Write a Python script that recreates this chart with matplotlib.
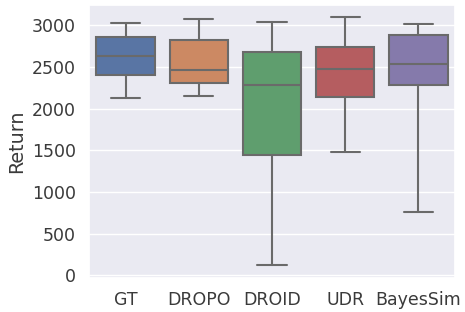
import numpy as np
import matplotlib
matplotlib.use('Agg')
import matplotlib.pyplot as plt
import seaborn as sns

# box stats
methods = ['GT', 'DROPO', 'DROID', 'UDR', 'BayesSim']
whislo = [2131, 2155, 120, 1474, 761]
q1 = [2406, 2311, 1446, 2139, 2279]
med = [2626, 2466, 2279, 2474, 2530]
q3 = [2860, 2825, 2681, 2737, 2884]
whishi = [3027, 3076, 3036, 3095, 3008]

sns.set_theme(style='darkgrid')
plt.rcParams['font.family'] = ['DejaVu Sans']
plt.rcParams['text.color'] = '#3a3a3a'
plt.rcParams['axes.labelcolor'] = '#3a3a3a'
plt.rcParams['xtick.color'] = '#3a3a3a'
plt.rcParams['ytick.color'] = '#3a3a3a'

pal = sns.color_palette('deep', len(methods))
colors = [sns.desaturate(c, 0.75) for c in pal]
line_col = '#6a6a6a'

fig = plt.figure(figsize=(4.65, 3.12), dpi=100)
ax = fig.add_axes([0.1914, 0.109, 0.7871, 0.875])

stats = []
for i, m in enumerate(methods):
    stats.append({'label': m, 'whislo': whislo[i], 'q1': q1[i], 'med': med[i],
                  'q3': q3[i], 'whishi': whishi[i], 'fliers': []})

bp = ax.bxp(stats, positions=np.arange(len(methods)), widths=0.8,
            patch_artist=True, showfliers=False, manage_ticks=False,
            boxprops=dict(edgecolor=line_col, linewidth=1.5),
            medianprops=dict(color=line_col, linewidth=1.5),
            whiskerprops=dict(color=line_col, linewidth=1.5),
            capprops=dict(color=line_col, linewidth=1.5))
for patch, c in zip(bp['boxes'], colors):
    patch.set_facecolor(c)

ax.set_xticks(np.arange(len(methods)))
ax.set_xticklabels(methods)
ax.set_xlim(-0.5, len(methods) - 0.5)
ax.set_ylim(-30, 3240)
ax.set_yticks([0, 500, 1000, 1500, 2000, 2500, 3000])
ax.grid(False, axis='x')
ax.tick_params(labelsize=12.5)
ax.set_ylabel('Return', fontsize=13.8)

fig.savefig('out.png', dpi=100)
